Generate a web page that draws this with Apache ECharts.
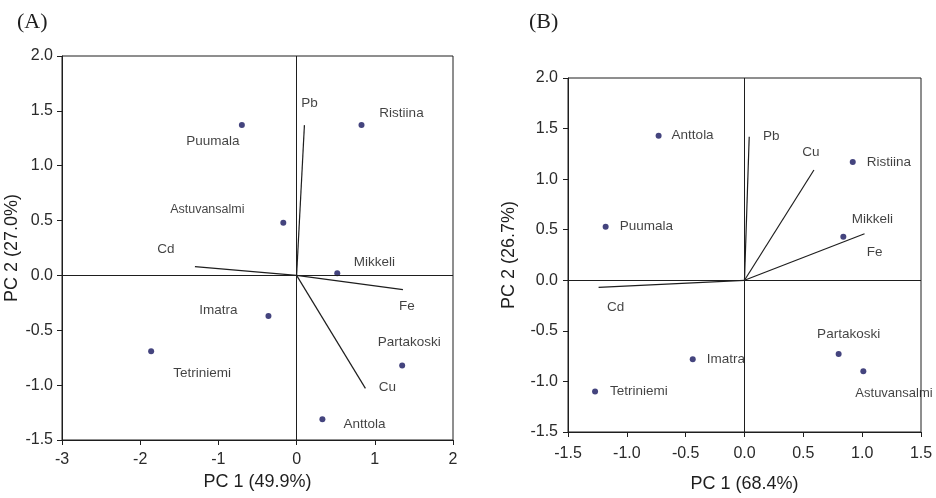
<!DOCTYPE html>
<html>
<head>
<meta charset="utf-8">
<script src="https://cdn.jsdelivr.net/npm/echarts@6/dist/echarts.min.js"></script>
<style>
  html, body { margin: 0; padding: 0; background: #fff; }
  #chart { width: 936px; height: 498px; }
</style>
</head>
<body>
<div id="chart"></div>
<script>
// panel A
const sitesA = ['Puumala', 'Ristiina', 'Astuvansalmi', 'Mikkeli', 'Imatra', 'Tetriniemi', 'Partakoski', 'Anttola']
const pc1A = [-0.70, 0.83, -0.17, 0.52, -0.36, -1.86, 1.35, 0.33]
const pc2A = [1.37, 1.37, 0.48, 0.02, -0.37, -0.69, -0.82, -1.31]
const metalsA = ['Pb', 'Cd', 'Fe', 'Cu']
const loadXA = [0.10, -1.30, 1.36, 0.88]
const loadYA = [1.37, 0.08, -0.13, -1.03]

// panel B
const sitesB = ['Anttola', 'Puumala', 'Ristiina', 'Mikkeli', 'Imatra', 'Tetriniemi', 'Partakoski', 'Astuvansalmi']
const pc1B = [-0.73, -1.18, 0.92, 0.84, -0.44, -1.27, 0.80, 1.01]
const pc2B = [1.43, 0.53, 1.17, 0.43, -0.78, -1.10, -0.73, -0.90]
const metalsB = ['Pb', 'Cu', 'Fe', 'Cd']
const loadXB = [0.04, 0.59, 1.02, -1.24]
const loadYB = [1.42, 1.09, 0.46, -0.07]

// label placement (pixel offsets from the point, text alignment, font size)
const labelPosA = {
  Puumala: [-29, 16, 'center'], Ristiina: [40, -12, 'center'], Astuvansalmi: [-76, -13, 'center', 12.5],
  Mikkeli: [37, -11, 'center'], Imatra: [-50, -6, 'center'], Tetriniemi: [51, 22, 'center'],
  Partakoski: [7, -23, 'center'], Anttola: [42, 5, 'center'],
  Pb: [5, -22, 'center'], Cd: [-29, -17, 'center'], Fe: [4, 17, 'center'], Cu: [22, -1, 'center'],
}
const labelPosB = {
  Anttola: [13, 0, 'left'], Puumala: [14, 0, 'left'], Ristiina: [14, 0, 'left'], Mikkeli: [29, -18, 'center'],
  Imatra: [14, 0, 'left'], Tetriniemi: [15, 0, 'left'], Partakoski: [10, -20, 'center'],
  Astuvansalmi: [-8, 22, 'left', 13],
  Pb: [22, 0, 'center'], Cu: [-3, -18, 'center'], Fe: [10, 19, 'center'], Cd: [17, 20, 'center'],
}

const sans = 'Liberation Sans, Arial, sans-serif'
const dark = '#1e1e1e'

const makeAxis = (gi, min, max, interval, name, gap, margin, fmt) => ({
  type: 'value',
  gridIndex: gi,
  min, max, interval,
  name,
  nameLocation: 'middle',
  nameGap: gap,
  nameTextStyle: { fontFamily: sans, fontSize: 18, color: dark },
  axisLine: { onZero: false, lineStyle: { color: dark, width: 1 } },
  axisTick: { show: true, length: 5, lineStyle: { color: dark } },
  axisLabel: { fontFamily: sans, fontSize: 16, color: '#2a2a2a', margin, formatter: fmt },
  splitLine: { show: false },
})

const pointLabel = (pos) => ({
  show: true,
  position: 'inside',
  offset: [pos[0], pos[1]],
  align: pos[2],
  verticalAlign: 'middle',
  fontFamily: sans,
  fontSize: pos[3] || 13.5,
  color: '#111',
  formatter: p => p.name,
})

const buildSeries = (gi, sites, xs, ys, metals, lx, ly, labelPos) => {
  const out = []
  // zero lines
  out.push({
    type: 'line', xAxisIndex: gi, yAxisIndex: gi, data: [], silent: true,
    markLine: {
      silent: true, symbol: ['none', 'none'], label: { show: false },
      lineStyle: { color: dark, width: 1, type: 'solid' },
      data: [{ xAxis: 0 }, { yAxis: 0 }],
    },
  })
  // loading vectors
  metals.forEach((m, i) => {
    out.push({
      type: 'line', xAxisIndex: gi, yAxisIndex: gi, silent: true,
      showSymbol: false, symbol: 'none',
      lineStyle: { color: dark, width: 1.2 },
      data: [[0, 0], [lx[i], ly[i]]],
    })
  })
  out.push({
    type: 'scatter', xAxisIndex: gi, yAxisIndex: gi, symbolSize: 0, silent: true,
    data: metals.map((m, i) => ({ name: m, value: [lx[i], ly[i]], label: pointLabel(labelPos[m]) })),
  })
  // site scores
  out.push({
    type: 'scatter', xAxisIndex: gi, yAxisIndex: gi, symbolSize: 6, silent: true,
    itemStyle: { color: '#15155e' },
    data: sites.map((s, i) => ({ name: s, value: [xs[i], ys[i]], label: pointLabel(labelPos[s]) })),
  })
  return out
}

const gridBox = { show: true, borderColor: dark, borderWidth: 1, backgroundColor: 'transparent' }

const option = {
  animation: false,
  backgroundColor: '#fff',
  title: [
    { text: '(A)', left: 12, top: 6, textStyle: { fontFamily: 'Liberation Serif, Times New Roman, serif', fontSize: 22, fontWeight: 'normal', color: dark } },
    { text: '(B)', left: 524, top: 6, textStyle: { fontFamily: 'Liberation Serif, Times New Roman, serif', fontSize: 22, fontWeight: 'normal', color: dark } },
  ],
  grid: [
    { left: 62, top: 56, width: 391, height: 384, ...gridBox },
    { left: 568, top: 78, width: 353, height: 356, ...gridBox },
  ],
  xAxis: [
    makeAxis(0, -3, 2, 1, 'PC 1 (49.9%)', 28, 12, v => String(v)),
    makeAxis(1, -1.5, 1.5, 0.5, 'PC 1 (68.4%)', 43, 14, v => v.toFixed(1)),
  ],
  yAxis: [
    makeAxis(0, -1.5, 2, 0.5, 'PC 2 (27.0%)', 38, 9, v => v.toFixed(1)),
    makeAxis(1, -1.5, 2, 0.5, 'PC 2 (26.7%)', 50, 10, v => v.toFixed(1)),
  ],
  series: [
    ...buildSeries(0, sitesA, pc1A, pc2A, metalsA, loadXA, loadYA, labelPosA),
    ...buildSeries(1, sitesB, pc1B, pc2B, metalsB, loadXB, loadYB, labelPosB),
  ],
}

const chart = echarts.init(document.getElementById('chart'))
chart.setOption(option)
</script>
</body>
</html>
